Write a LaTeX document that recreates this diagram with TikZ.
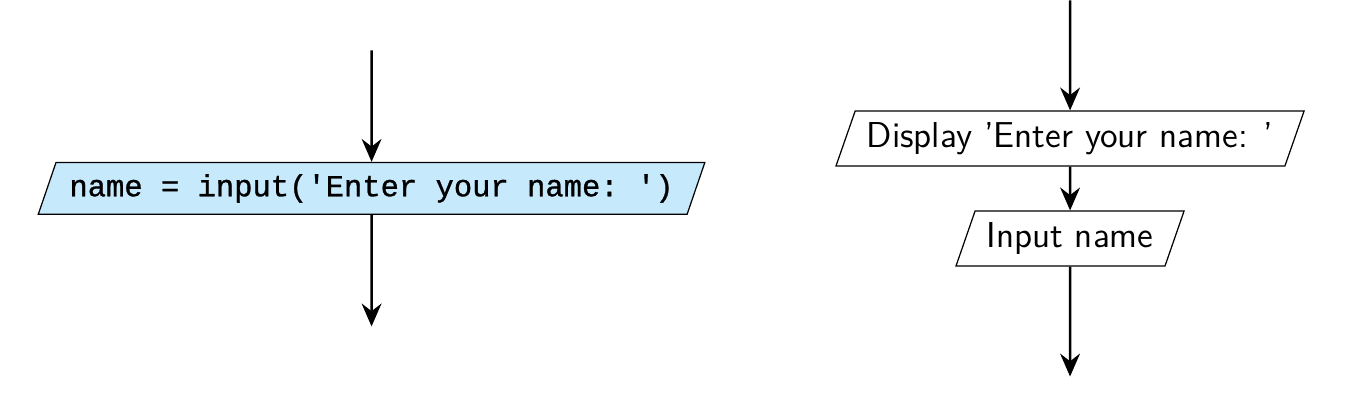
\documentclass[tikz,border=0pt]{standalone}
\usepackage{fontspec}
\setmonofont[FakeBold=1]{Liberation Mono}
\usetikzlibrary{
    arrows.meta, % for the stealth arrow tips
    positioning, % for placing nodes relative to other nodes
    shapes.geometric % for the trapezium (parallelogram) shape
}
\definecolor{codeblue}{RGB}{198,234,252}

\begin{document}
\begin{tikzpicture}[
    node distance=1.59cm,on grid,>={Stealth[length=7.5pt,width=6.5pt,inset=2.5pt]},
    io/.style      = {trapezium,trapezium left angle=70,trapezium right angle=110,
                      trapezium stretches,draw,minimum height=18pt,inner xsep=3.8pt,
                      font=\fontsize{11.8}{14}\sffamily},
    code io/.style = {io,fill=codeblue,minimum height=17pt,inner xsep=4.4pt,
                      font=\fontsize{10}{12}\ttfamily},
    flow/.style    = {->,thick}
]

\useasboundingbox (0,0) rectangle (15.62,-4.608);

% Python statement (left)

    \node [code io] (assign) at (4.28,-2.17) {name = input('Enter your name: ')};
    \coordinate [above=of assign] (assign in);
    \coordinate [below=of assign] (assign out);

    \draw [flow] (assign in) -- (assign);
    \draw [flow] (assign)    -- (assign out);

% Equivalent flowchart (right)

    \node [io] (display) at (12.326,-1.595)     {Display 'Enter your name: '};
    \node [io] (read)    [below=1.152cm of display] {Input name};
    \coordinate [above=of display] (display in);
    \coordinate [below=of read]    (read out);

    \draw [flow] (display in) -- (display);
    \draw [flow] (display)    -- (read);
    \draw [flow] (read)       -- (read out);

\end{tikzpicture}
\end{document}
